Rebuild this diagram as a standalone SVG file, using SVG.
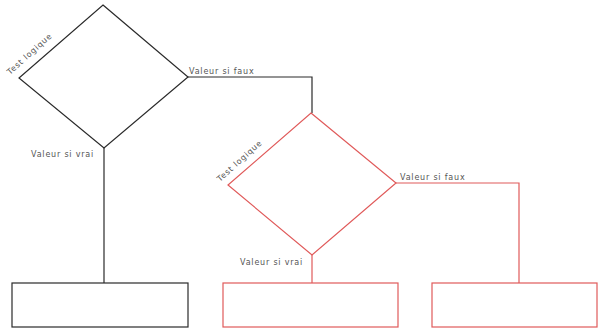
<svg xmlns="http://www.w3.org/2000/svg" width="598" height="329" viewBox="0 0 598 329">
<style>
.blk{fill:none;stroke:#2a2a2a;stroke-width:1.2}
.red{fill:none;stroke:#e05a5a;stroke-width:1.2}
.lbl{font-family:"DejaVu Sans",sans-serif;font-size:8px;fill:#555;letter-spacing:0.8px}
</style>
<rect width="598" height="329" fill="#fff"/>
<g id="connectors">
<polyline class="blk" points="188,77 312,77 312,113"/>
<line class="blk" x1="104" y1="148" x2="104" y2="283"/>
<line class="red" x1="312" y1="255" x2="312" y2="283"/>
<polyline class="red" points="396,183 519,183 519,283"/>
<text class="lbl" x="189" y="74">Valeur si faux</text>
<text class="lbl" x="31" y="157">Valeur si vrai</text>
<text class="lbl" x="400" y="180">Valeur si faux</text>
<text class="lbl" x="240" y="265">Valeur si vrai</text>
</g>
<g id="decision1">
<polygon class="blk" points="103,5 188,77 104,148 19,78"/>
<text class="lbl" transform="translate(10,75) rotate(-42)">Test logique</text>
</g>
<g id="decision2">
<polygon class="red" points="311,113 396,183 312,255 228,185"/>
<text class="lbl" transform="translate(220,182) rotate(-42)">Test logique</text>
</g>
<g id="box1"><rect class="blk" x="12" y="283" width="176" height="44"/></g>
<g id="box2"><rect class="red" x="223" y="283" width="175" height="44"/></g>
<g id="box3"><rect class="red" x="432" y="283" width="165" height="44"/></g>
</svg>
